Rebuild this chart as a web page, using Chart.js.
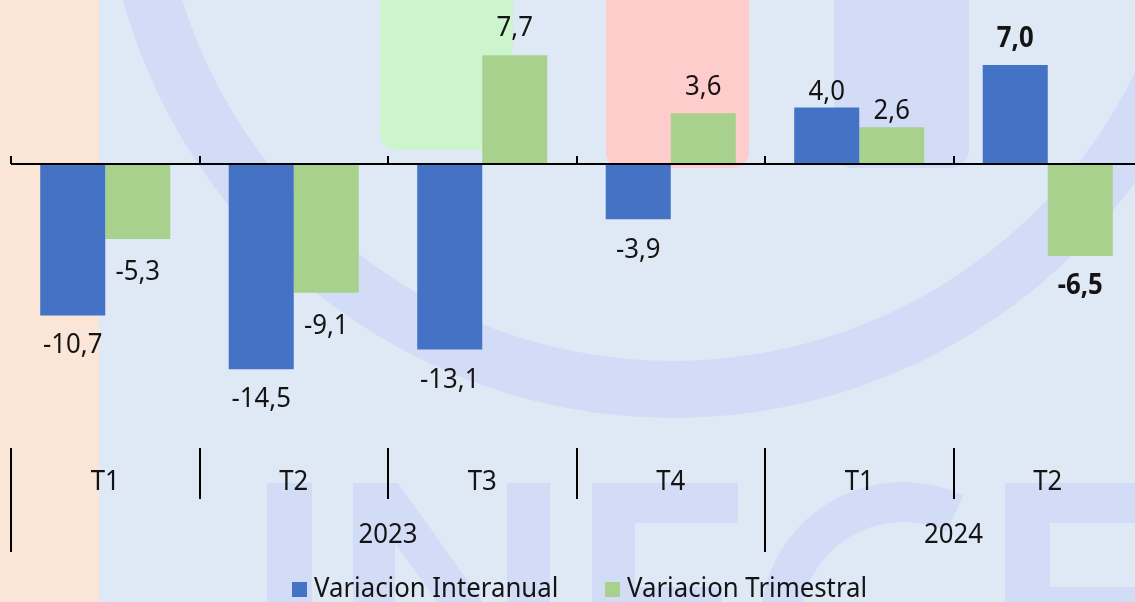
<!DOCTYPE html>
<html>
<head>
<meta charset="utf-8">
<script src="https://cdn.jsdelivr.net/npm/chart.js@4/dist/chart.umd.min.js"></script>
<style>
  html, body { margin: 0; padding: 0; overflow: hidden; background: #DFE9F6; }
  #wrap { width: 1142px; height: 602px; }
</style>
</head>
<body>
<div id="wrap"><canvas id="pib" width="1142" height="602"></canvas></div>
<script>
const QUARTERS = ["T1", "T2", "T3", "T4", "T1", "T2"];
const YEARS = ["2023", "2024"];
const YEAR_SPANS = [4, 2];
const INTERANUAL = [-10.7, -14.5, -13.1, -3.9, 4.0, 7.0];
const TRIMESTRAL = [-5.3, -9.1, 7.7, 3.6, 2.6, -6.5];
const SERIES_NAMES = ["Variacion Interanual", "Variacion Trimestral"];

const Y_MIN = -20;
const Y_MAX = 11.6;

const BLUE = "#4472C4";
const GREEN = "#A9D18E";
const INK = "#141414";
const MARK = "#D3DCF6";      // faint logo behind the bars
const FONT = '"Noto Sans", "Open Sans", sans-serif';
const FONT_PX = 28;
const CAP = 20;              // cap height of FONT at FONT_PX
const SQUEEZE = 0.92;        // text is a bit condensed

// squeezed text helper
function say(ctx, str, x, y, align, bold) {
    ctx.save();
    ctx.font = (bold ? "700 " : "400 ") + FONT_PX + "px " + FONT;
    ctx.fillStyle = INK;
    ctx.textAlign = align;
    ctx.textBaseline = "alphabetic";
    ctx.translate(x, y);
    ctx.scale(SQUEEZE, 1);
    ctx.fillText(str, 0, 0);
    ctx.restore();
}

function roundBox(ctx, x, y, w, h, r, color) {
    ctx.fillStyle = color;
    ctx.beginPath();
    ctx.roundRect(x, y, w, h, r);
    ctx.fill();
}

const fmt = v => v.toFixed(1).replace(".", ",");

/* background: highlight boxes and the faint logo */
const backdrop = {
    id: "backdrop",
    beforeDatasetsDraw(chart) {
        const ctx = chart.ctx;
        const W = chart.width, H = chart.height;
        ctx.save();
        ctx.fillStyle = "#DFE9F6";
        ctx.fillRect(0, 0, W, H);
        ctx.fillStyle = "#FBE5D6";
        ctx.fillRect(0, 0, 99, H);

        // ring
        ctx.fillStyle = MARK;
        ctx.beginPath();
        ctx.arc(673, -153, 571, 0, Math.PI * 2);
        ctx.arc(673, -153, 514, 0, Math.PI * 2, true);
        ctx.fill("evenodd");

        // upright block top right
        roundBox(ctx, 834, -30, 135, 198, 18, MARK);

        // letters along the bottom
        ctx.fillStyle = MARK;
        ctx.fillRect(267, 483, 45, 200);                 // I
        ctx.fillRect(353, 483, 42, 200);                 // N
        ctx.fillRect(507, 483, 43, 200);
        ctx.beginPath();
        ctx.moveTo(353, 483);
        ctx.lineTo(398, 483);
        ctx.lineTo(550, 696);
        ctx.lineTo(550, 760);
        ctx.lineTo(393, 540);
        ctx.closePath();
        ctx.fill();
        ctx.fillRect(592, 483, 43, 200);                 // E
        ctx.fillRect(592, 483, 146, 40);
        ctx.fillRect(592, 587, 130, 40);
        const a0 = -65 * Math.PI / 180, a1 = 100 * Math.PI / 180;
        ctx.beginPath();                                 // G
        ctx.arc(903, 625, 143, a0, a1, true);
        ctx.arc(903, 625, 103, a1, a0, false);
        ctx.closePath();
        ctx.fill();
        ctx.fillRect(1005, 483, 45, 200);                // E
        ctx.fillRect(1005, 483, 200, 40);
        ctx.fillRect(1005, 587, 200, 40);

        // highlight boxes
        roundBox(ctx, 380, -30, 133, 180, 16, "#CCF5CE");
        roundBox(ctx, 606, -30, 143, 198, 16, "#FFCCCC");
        ctx.restore();
    }
};

/* category axis, value labels and legend */
const annotate = {
    id: "annotate",
    afterDatasetsDraw(chart) {
        const ctx = chart.ctx;
        const area = chart.chartArea;
        const y0 = chart.scales.y.getPixelForValue(0);
        const n = QUARTERS.length;
        const step = (area.right - area.left) / n;

        ctx.save();
        ctx.strokeStyle = "#000";
        ctx.lineWidth = 2;
        ctx.beginPath();
        ctx.moveTo(area.left, y0);
        ctx.lineTo(area.right, y0);
        for (let i = 0; i <= n; i++) {
            const x = Math.round(area.left + i * step);
            ctx.moveTo(x, y0 - 8);
            ctx.lineTo(x, y0);
        }
        ctx.stroke();

        // multi level labels
        const top = area.bottom + 1;
        const yearEdges = [0];
        YEAR_SPANS.forEach(s => yearEdges.push(yearEdges[yearEdges.length - 1] + s));
        ctx.beginPath();
        for (let i = 0; i <= n; i++) {
            const x = Math.round(area.left + i * step);
            ctx.moveTo(x, top);
            ctx.lineTo(x, yearEdges.includes(i) ? 552 : 499);
        }
        ctx.stroke();
        ctx.restore();

        QUARTERS.forEach((q, i) => {
            say(ctx, q, chart.scales.x.getPixelForValue(i), 480 + CAP / 2, "center");
        });
        YEARS.forEach((yr, k) => {
            const mid = (yearEdges[k] + yearEdges[k + 1]) / 2;
            say(ctx, yr, area.left + mid * step, 533 + CAP / 2, "center");
        });

        // value labels
        chart.data.datasets.forEach((ds, d) => {
            const meta = chart.getDatasetMeta(d);
            meta.data.forEach((bar, i) => {
                const v = ds.data[i];
                const gap = ds.labelGap[i];
                const cy = v >= 0 ? bar.y - gap : bar.y + gap;
                say(ctx, fmt(v), bar.x, cy + CAP / 2, "center", i === ds.data.length - 1);
            });
        });

        // legend
        const keys = [[292, BLUE], [605, GREEN]];
        keys.forEach(([x, c], k) => {
            ctx.fillStyle = c;
            ctx.fillRect(x, 582, 15, 15);
            say(ctx, SERIES_NAMES[k], x + 22, 597, "left");
        });
    }
};

new Chart(document.getElementById("pib"), {
    type: "bar",
    data: {
        labels: QUARTERS,
        datasets: [
            { label: SERIES_NAMES[0], data: INTERANUAL, backgroundColor: BLUE,
              labelGap: [28, 28, 29, 29, 18, 28] },
            { label: SERIES_NAMES[1], data: TRIMESTRAL, backgroundColor: GREEN,
              labelGap: [31, 31, 29, 28, 18, 28] }
        ]
    },
    options: {
        responsive: false,
        devicePixelRatio: 1,
        animation: false,
        layout: { padding: { left: 11, right: 0, top: 0, bottom: 155 } },
        datasets: { bar: { categoryPercentage: 0.69, barPercentage: 1.0 } },
        plugins: { legend: { display: false }, tooltip: { enabled: false } },
        scales: {
            x: { display: false, grid: { display: false } },
            y: { display: false, min: Y_MIN, max: Y_MAX, grid: { display: false } }
        }
    },
    plugins: [backdrop, annotate]
});
</script>
</body>
</html>
